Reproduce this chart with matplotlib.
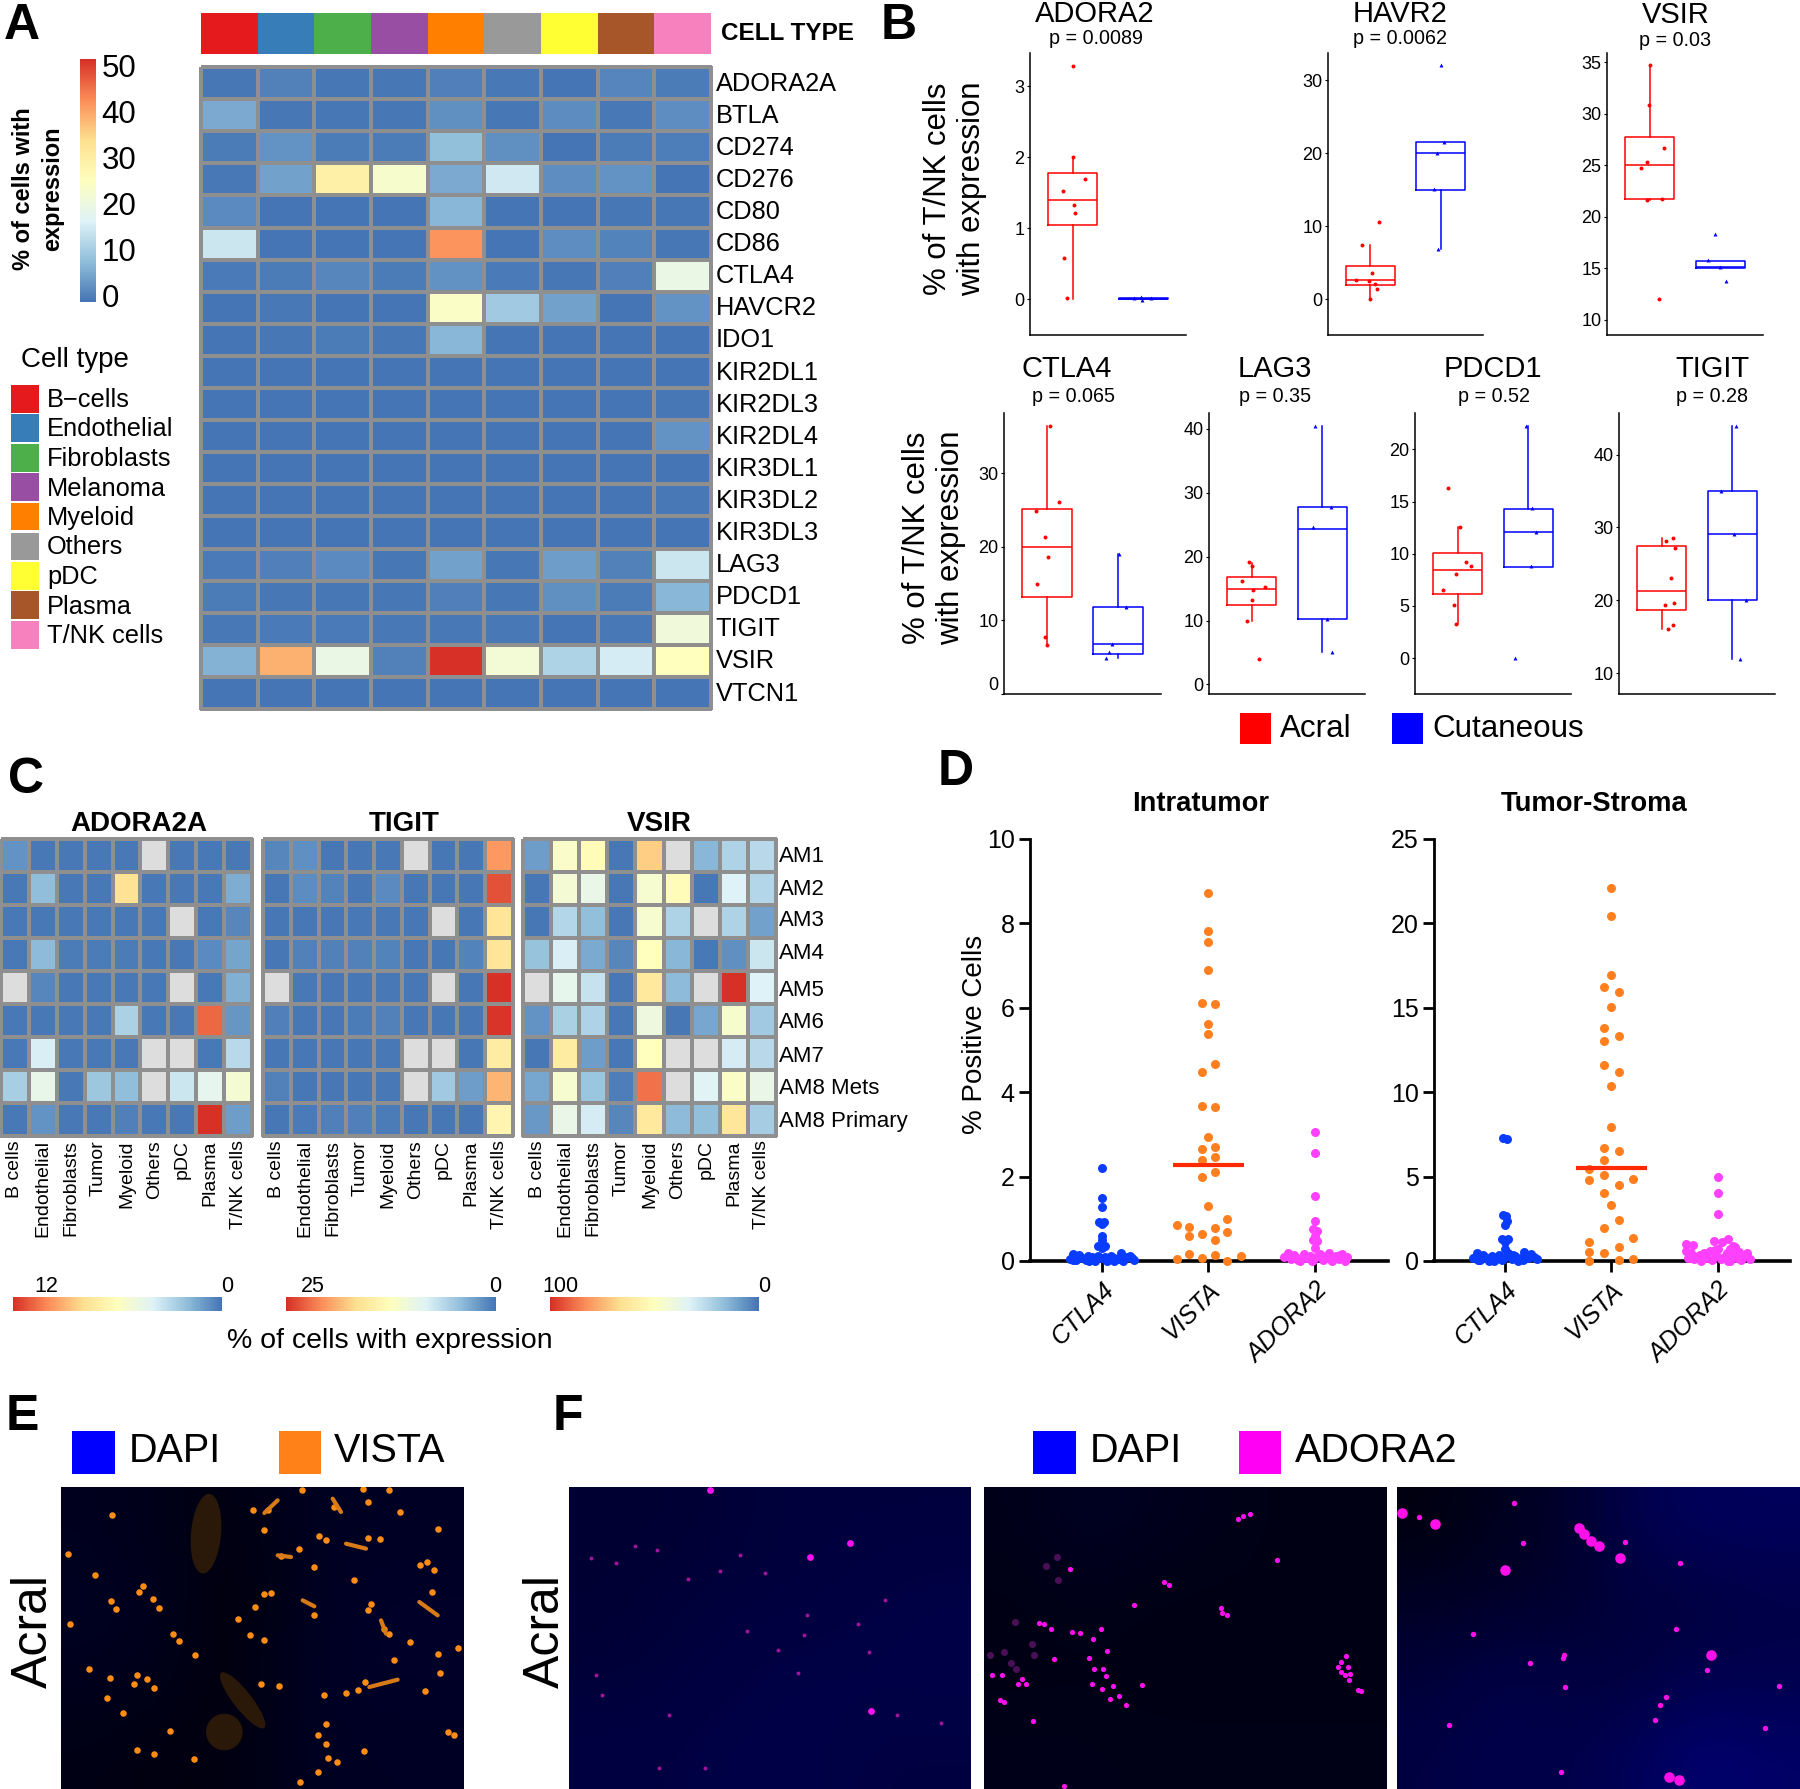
import numpy as np
import matplotlib
matplotlib.use('Agg')
import matplotlib.pyplot as plt
from matplotlib.colors import LinearSegmentedColormap
from matplotlib.patches import Rectangle, Ellipse

plt.rcParams['font.family'] = ['Liberation Sans', 'DejaVu Sans']
W, H = 1800, 1789
fig = plt.figure(figsize=(18, 17.89), dpi=100, facecolor='white')
nan = np.nan

# ---------- Panel A data ----------
cell_types_a = ['B\u2212cells', 'Endothelial', 'Fibroblasts', 'Melanoma', 'Myeloid', 'Others', 'pDC', 'Plasma', 'T/NK cells']
cell_colors = ['#E41A1C', '#377EB8', '#4DAF4A', '#984EA3', '#FF7F00', '#999999', '#FFFF33', '#A65628', '#F781BF']
genes_a = ['ADORA2A', 'BTLA', 'CD274', 'CD276', 'CD80', 'CD86', 'CTLA4', 'HAVCR2', 'IDO1', 'KIR2DL1',
           'KIR2DL3', 'KIR2DL4', 'KIR3DL1', 'KIR3DL2', 'KIR3DL3', 'LAG3', 'PDCD1', 'TIGIT', 'VSIR', 'VTCN1']
expr_a = [
    [0.2, 1.5, 0.3, 0.3, 1.3, 0.4, 0.1, 1.8, 0.8],
    [6.0, 0.3, 0.2, 0.2, 3.0, 0.2, 2.7, 0.5, 2.8],
    [0.8, 3.5, 0.8, 0.8, 8.5, 3.0, 0.1, 0.8, 1.0],
    [0.5, 5.0, 29, 23, 6.0, 15, 2.8, 3.5, 0.1],
    [2.5, 0.1, 0.1, 0.1, 7.5, 0.1, 0.1, 0.2, 0.2],
    [14.5, 0.1, 0.1, 0.1, 41, 0.1, 2.8, 1.7, 0.2],
    [0.6, 0.8, 2.0, 0.8, 3.2, 0.6, 0.2, 1.2, 19.5],
    [0.1, 0.5, 0.1, 0.1, 24, 10, 5.0, 0.1, 3.5],
    [0.1, 0.2, 0.8, 0.2, 7.5, 0.1, 0.1, 0.1, 0.1],
    [0.1, 0.1, 0.1, 0.1, 0.1, 0.1, 0.1, 0.1, 0.1],
    [0.1, 0.1, 0.1, 0.1, 0.1, 0.1, 0.1, 0.1, 0.3],
    [0.1, 0.1, 0.1, 0.1, 0.1, 0.1, 0.1, 0.1, 3.5],
    [0.1, 0.1, 0.1, 0.1, 0.1, 0.1, 0.1, 0.1, 0.1],
    [0.1, 0.1, 0.1, 0.1, 0.1, 0.1, 0.1, 0.1, 0.4],
    [0.1, 0.1, 0.1, 0.1, 0.1, 0.1, 0.1, 0.1, 0.1],
    [0.6, 1.2, 2.5, 0.3, 5.0, 0.3, 4.5, 1.5, 14.5],
    [0.8, 0.2, 0.2, 0.2, 1.3, 0.3, 3.0, 0.8, 7.5],
    [0.5, 0.7, 0.7, 0.4, 0.5, 0.5, 0.1, 0.5, 21],
    [7.0, 38, 19.5, 1.5, 50, 21.5, 11.5, 15.5, 25],
    [0.1, 0.1, 0.1, 0.1, 0.1, 0.1, 0.1, 0.1, 0.1],
]
ticks_a = [0, 10, 20, 30, 40, 50]

# ---------- Panel B data ----------
box_genes = ['ADORA2', 'HAVR2', 'VSIR', 'CTLA4', 'LAG3', 'PDCD1', 'TIGIT']
box_p = ['p = 0.0089', 'p = 0.0062', 'p = 0.03', 'p = 0.065', 'p = 0.35', 'p = 0.52', 'p = 0.28']
# stats: whislo, q1, median, q3, whishi
stats_acral = [[0.0, 1.05, 1.40, 1.78, 2.0], [0.0, 1.95, 2.55, 4.5, 7.45], [21.6, 21.7, 25.0, 27.7, 34.7],
               [6.6, 13.2, 20.0, 25.2, 36.4], [9.9, 12.4, 15.0, 16.8, 19.0], [3.3, 6.1, 8.4, 10.07, 12.6],
               [16.1, 18.7, 21.3, 27.4, 28.6]]
stats_cut = [[0.0, 0.0, 0.0, 0.01, 0.01], [6.85, 15.0, 20.0, 21.5, 21.5], [15.0, 15.0, 15.15, 15.75, 15.75],
             [4.9, 5.5, 6.8, 11.8, 19.0], [5.0, 10.3, 24.4, 27.8, 40.5], [8.7, 8.7, 12.1, 14.3, 22.3],
             [12.0, 20.0, 29.1, 35.0, 43.9]]
pts_acral = [[3.28, 2.0, 1.69, 1.52, 1.32, 1.22, 0.58, 0.02],
             [10.6, 7.45, 3.6, 2.66, 2.4, 2.1, 1.4, 0.0],
             [34.7, 30.85, 26.7, 25.3, 24.7, 21.75, 21.6, 12.0],
             [36.4, 26.1, 24.9, 21.4, 18.6, 14.9, 7.8, 6.6],
             [19.1, 18.6, 16.2, 15.2, 14.8, 13.2, 9.9, 4.0],
             [16.3, 12.6, 9.2, 8.8, 8.07, 6.5, 5.1, 3.3],
             [28.6, 28.2, 27.2, 23.0, 19.6, 19.3, 16.6, 16.1]]
jit_acral = [[0, .01, .17, -.13, .02, .03, -.12, -.08],
             [.12, -.12, .02, -.2, -.02, .06, .10, 0],
             [.01, -.01, .2, -.03, -.12, .17, -.03, .13],
             [.05, .17, -.15, -.03, .02, -.13, -.02, 0],
             [-.03, 0, -.13, .19, .02, 0, -.07, .1],
             [-.13, .04, .12, .19, -.02, -.2, -.05, -.02],
             [.16, .06, .19, .13, .18, .05, .16, .09]]
pts_cut = [[0.01, 0.03, 0.015, -0.01],
           [32.0, 21.5, 20.0, 15.1, 6.85],
           [18.3, 15.8, 15.15, 13.8],
           [19.0, 11.8, 6.8, 5.7, 4.9],
           [40.5, 27.8, 24.6, 10.3, 5.0],
           [22.3, 14.4, 12.1, 8.8, 0.0],
           [43.9, 35.0, 29.1, 20.0, 12.0]]
jit_cut = [[-.14, -.04, .11, -.02],
           [0, .04, -.05, -.10, -.04],
           [-.07, -.17, -.01, .08],
           [.02, .12, -.08, -.12, -.17],
           [-.1, .12, -.13, .07, .13],
           [-.03, .05, .11, .04, -.19],
           [.05, -.16, .02, .19, .1]]
box_ylim = [(-0.5, 3.47), (-4.86, 33.7), (8.58, 35.9), (0, 38.2), (-1.5, 42.5), (-3.45, 23.5), (7.14, 45.7)]
box_ticks = [[0, 1, 2, 3], [0, 10, 20, 30], [10, 15, 20, 25, 30, 35], [0, 10, 20, 30], [0, 10, 20, 30, 40],
             [0, 5, 10, 15, 20], [10, 20, 30, 40]]
group_names = ['Acral', 'Cutaneous']

# ---------- Panel C data ----------
cells_c = ['B cells', 'Endothelial', 'Fibroblasts', 'Tumor', 'Myeloid', 'Others', 'pDC', 'Plasma', 'T/NK cells']
programs_c = ['AM1', 'AM2', 'AM3', 'AM4', 'AM5', 'AM6', 'AM7', 'AM8 Mets', 'AM8 Primary']
adora_c = [
    [0.8, 0.1, 0.1, 0.1, 0.1, nan, 0.1, 0.1, 0.1],
    [0.1, 2.0, 0.1, 0.1, 7.8, 0.1, 0.1, 0.1, 1.5],
    [0.1, 0.1, 0.1, 0.1, 0.1, 0.1, nan, 0.1, 0.5],
    [0.1, 1.9, 0.2, 0.2, 0.2, 0.1, 0.1, 0.6, 1.3],
    [nan, 0.5, 0.1, 0.1, 0.1, 0.1, nan, 0.1, 1.6],
    [0.1, 0.1, 0.1, 0.1, 2.7, 0.1, 0.1, 10.8, 0.9],
    [0.1, 3.8, 0.1, 0.1, 0.1, nan, nan, 0.1, 3.0],
    [2.6, 4.5, 0.1, 2.3, 2.0, nan, 3.5, 4.4, 5.3],
    [0.1, 0.8, 0.1, 0.1, 0.3, 0.1, 0.1, 12.0, 1.1],
]
tigit_c = [
    [1.0, 1.5, 0.1, 0.1, 0.2, nan, 0.1, 0.1, 20.3],
    [0.1, 1.3, 0.8, 0.1, 1.2, 0.1, 0.1, 0.1, 23.5],
    [0.1, 0.1, 0.1, 0.2, 0.2, 0.1, nan, 0.1, 16.0],
    [0.1, 0.7, 0.7, 0.7, 0.8, 0.1, 0.1, 0.8, 16.0],
    [nan, 0.2, 0.1, 0.1, 0.2, 0.1, nan, 0.1, 25.0],
    [0.6, 0.1, 0.1, 0.4, 0.7, 0.1, 0.1, 0.1, 24.8],
    [0.1, 0.1, 0.1, 0.1, 0.2, nan, nan, 0.1, 15.0],
    [0.7, 0.1, 0.1, 0.1, 0.2, nan, 5.0, 2.3, 18.8],
    [0.1, 0.3, 0.6, 0.6, 0.4, 0.1, 0.1, 0.1, 13.8],
]
vsir_c = [
    [9, 47, 52, 0.5, 70, nan, 15, 23, 25],
    [0.5, 44, 38, 0.5, 45, 52, 0.5, 33, 24],
    [0.5, 24, 17, 0.5, 45, 23, nan, 23, 10],
    [18, 32, 12, 4, 50, 15, 1, 6, 29],
    [nan, 37, 28, 0.5, 62, 16, nan, 100, 33],
    [7, 22, 23, 0.5, 41, 0.5, 11, 46, 20],
    [0.5, 60, 9, 0.5, 50, nan, nan, 31, 25],
    [11, 45, 19, 2, 88, nan, 34, 48, 38],
    [8, 38, 31, 4, 62, 16, 17, 63, 21],
]
titles_c = ['ADORA2A', 'TIGIT', 'VSIR']
max_c = [12, 25, 100]

# ---------- Panel D data ----------
markers_d = ['CTLA4', 'VISTA', 'ADORA2']
intra_ctla4_y = [2.2, 1.5, 1.27, .92, .92, .88, .6, .5, .35, .35, .3,
                 .05, .17, .02, .14, .06, .02, .0, .09, .03, .12, .07, .1, .02, .13, .0, .05, .2, .04, .09, .13, .03,
                 .02, .09, .11, .0, .01, .08, .01, .06]
intra_ctla4_x = [0, 0, 0, -.02, .02, 0, 0, 0, -.03, .03, 0,
                 -.3, -.27, -.24, -.21, -.18, -.15, -.12, -.09, -.06, -.03, 0, .03, .06, .09, .12, .15, .18, .21, .24, .27, .3,
                 -.27, -.2, -.13, -.06, .05, .12, .2, .28]
intra_vista_y = [8.73, 7.83, 7.55, 6.9, 6.12, 6.08, 5.62, 5.38, 4.67, 4.48, 3.68, 3.65, 2.94, 2.65, 2.69, 2.4, 2.46,
                 2.12, 1.98, 1.31, 1.0, .86, .81, .78, .59, .65, .68, .49, .17, .15, .13, .05, .06, -.01]
intra_vista_x = [0, 0, 0, 0, -.057, .057, 0, 0, .057, -.057, -.057, .057, 0, -.057, .057, -.057, .057,
                 .057, -.057, 0, .176, -.295, -.18, .057, -.18, -.057, .176, .057, -.18, .057, .3, -.295, -.057, .176]
intra_adora_y = [3.05, 2.55, 1.53, .95, .75, .72, .6, .5, .47, .3,
                 .1, .18, .04, .15, .08, .0, .17, .06, .12, .02, .1, .16, .03, .08, .19, .01, .12, .05, .16, .0, .1,
                 .13, .02, .07, .0, .11, .04, .14]
intra_adora_x = [0, 0, 0, 0, -.02, .02, 0, -.02, .02, 0,
                 -.29, -.26, -.23, -.2, -.17, -.14, -.11, -.08, -.05, -.02, .01, .04, .07, .1, .13, .16, .19, .22, .25, .28, .3,
                 -.24, -.16, -.09, -.03, .06, .14, .23]
strom_ctla4_y = [7.3, 7.25, 2.75, 2.65, 2.35, 2.15, 1.3, 1.3, 1.15, .7,
                 .15, .5, .05, .35, .2, .0, .3, .1, .35, .05, .25, .45, .1, .3, .0, .2, .55, .15, .4, .25, .1,
                 .05, .25, .0, .15, .35, .05]
strom_ctla4_x = [-.02, .02, -.02, .01, .02, 0, -.03, .03, 0, 0,
                 -.3, -.27, -.24, -.21, -.18, -.15, -.12, -.09, -.06, -.03, 0, .03, .06, .09, .12, .15, .18, .21, .24, .27, .3,
                 -.26, -.19, -.11, -.04, .07, .17]
strom_vista_y = [22.1, 20.45, 16.97, 16.25, 15.93, 15.03, 13.78, 13.3, 13.02, 11.59, 11.2, 10.34, 7.94, 6.72, 6.53, 6.0,
                 5.47, 5.08, 4.78, 4.87, 4.48, 4.02, 3.32, 2.45, 1.96, 1.34, 1.15, .81, .53, .46, .05, .09, -.02]
strom_vista_x = [0, 0, 0, -.073, .067, 0, -.073, .067, -.073, -.073, .067, 0, 0, -.073, .067, -.073,
                 -.207, -.073, -.207, .2, .067, -.073, 0, .067, -.073, .2, -.207, .067, -.207, -.073, .067, .2, -.207]
strom_adora_y = [5.0, 4.0, 2.8, 1.3, 1.2, 1.1, 1.0, .95, .9, .85, .7, .65,
                 .6, .2, .5, .1, .3, .0, .45, .15, .6, .05, .35, .7, .1, .25, .5, .0, .4, .15, .55, .05, .3, .45, .1, .2, .35, .0, .25]
strom_adora_x = [0, 0, 0, .1, -.035, .04, -.3, -.235, .145, .16, .12, -.03,
                 -.3, -.28, -.25, -.22, -.19, -.16, -.13, -.1, -.07, -.05, -.02, 0, .03, .06, .09, .12, .15, .18, .2, .22, .25, .28, .3,
                 -.26, -.17, .1, .24]
median_intra = [nan, 2.27, nan]
median_strom = [nan, 5.49, nan]

# ---------- Panels E/F: hand-read spots in the micrographs (zoomed-crop coordinates) ----------
e_spots_x = [153, 20, 103, 235, 246, 295, 166, 277, 150, 354, 228, 220, 148, 84, 139, 278, 258, 402, 326, 228, 398, 280, 187, 28,
             575, 622, 610, 660, 775, 795, 715, 760, 608, 630, 583, 760, 610, 530, 566, 820, 920, 985, 722, 905, 1017, 1130, 880,
             1077, 1098, 1120, 958, 920, 930, 920, 1112, 968, 985, 1048, 1130, 1192, 1000, 1138, 1092, 855, 890, 912, 795, 1160,
             1178, 910, 828, 800, 770, 795, 718, 655, 600, 790, 770, 335]
e_spots_y = [83, 200, 265, 315, 297, 363, 367, 336, 341, 463, 563, 592, 573, 545, 632, 602, 575, 505, 732, 790, 815, 800, 677, 410,
             68, 70, 130, 207, 148, 160, 185, 240, 320, 318, 360, 385, 460, 395, 445, 60, 45, 10, 8, 5, 75, 125, 278,
             235, 225, 250, 155, 152, 350, 368, 316, 425, 440, 465, 500, 482, 518, 558, 612, 617, 610, 585, 710, 735,
             745, 793, 825, 812, 745, 770, 885, 597, 590, 625, 855, 440]
e_streaks = [[(815, 35), (840, 75)], [(855, 170), (915, 185)], [(1075, 345), (1130, 385)], [(925, 600), (1010, 578)],
             [(725, 340), (760, 358)], [(610, 78), (650, 40)], [(650, 205), (690, 210)], [(960, 400), (975, 440)]]
e_dim_ellipses = [(435, 140, 90, 240, 5), (545, 640, 55, 210, -38), (490, 735, 110, 110, 0)]
f1_bright = [(424, 10), (725, 209), (844, 168), (908, 673)]
f1_dim = [(197, 178), (140, 228), (65, 212), (265, 190), (357, 277), (455, 252), (515, 203), (590, 257), (690, 558), (870, 410),
          (950, 338), (300, 683), (270, 842), (408, 842), (985, 683), (100, 625), (82, 565), (717, 385), (903, 495), (1120, 708),
          (630, 490), (535, 433), (708, 445)]
f2_bright = [(800, 80), (780, 88), (763, 97), (882, 220), (542, 285), (557, 294), (451, 353), (712, 363), (715, 378), (730, 383),
             (1088, 508), (1125, 610), (1135, 612), (476, 594), (260, 245), (127, 590), (113, 576), (240, 897), (200, 427),
             (180, 410), (165, 407), (290, 437), (265, 435), (327, 457), (352, 425), (370, 492), (315, 512), (330, 545), (358, 545),
             (368, 568), (388, 597), (325, 592), (355, 605), (405, 628), (428, 655), (380, 637), (60, 645), (48, 640), (210, 517),
             (146, 703), (55, 565), (25, 565), (102, 590), (1075, 525), (1065, 540), (1075, 555), (1095, 540), (1100, 560), (1097, 580),
             (1085, 565)]
f2_dim = [(220, 210), (222, 280), (185, 238), (145, 470), (95, 545), (60, 495), (18, 503), (80, 527), (150, 503), (92, 405)]
f3_big = [(14, 78), (113, 110), (325, 250), (670, 214), (545, 122), (560, 140), (583, 162), (605, 178), (943, 503), (815, 870), (845, 878)]
f3_small = [(65, 90), (350, 47), (492, 855), (930, 548), (1145, 598), (505, 600), (500, 505), (497, 513), (378, 168), (228, 442),
            (1105, 722), (775, 700), (808, 630), (788, 653), (838, 427), (850, 228), (155, 715), (398, 528), (683, 165)]
# coarse DAPI brightness, hand-read over the crops
dapi_e = [[.12, .10, .06, .12, .14, .14], [.13, .12, .04, .11, .16, .16], [.12, .10, .05, .13, .16, .16], [.08, .06, .06, .12, .14, .14]]
dapi_f1 = [[.20, .20, .22, .24, .24, .24], [.20, .22, .24, .24, .26, .28], [.22, .24, .26, .28, .28, .28], [.26, .26, .28, .28, .26, .26]]
dapi_f2 = [[.10, .14, .12, .10, .08, .08], [.08, .10, .08, .08, .08, .08], [.08, .08, .08, .08, .08, .08], [.10, .10, .09, .09, .09, .09]]
dapi_f3 = [[.06, .12, .16, .30, .36, .36], [.14, .16, .18, .24, .24, .28], [.22, .28, .26, .24, .30, .30], [.26, .30, .28, .34, .44, .40]]

# ---------- helpers ----------
def ax_px(l, t, r, b):
    return fig.add_axes([l / W, 1 - b / H, (r - l) / W, (b - t) / H])

def T(x, y, s, **kw):
    kw.setdefault('va', 'center')
    kw.setdefault('ha', 'left')
    return fig.text(x / W, 1 - (y + 2) / H, s, **kw)

def square(l, t, r, b, color):
    fig.add_artist(Rectangle((l / W, 1 - b / H), (r - l) / W, (b - t) / H, transform=fig.transFigure,
                             facecolor=color, edgecolor='none'))

cmap = LinearSegmentedColormap.from_list('rb', ['#4575B4', '#91BFDB', '#E0F3F8', '#FFFFBF', '#FEE090', '#FC8D59', '#D73027'], N=256)
cmap.set_bad('#DDDDDD')
GRID = '#8F8F8F'

def heat(ax, data, vmax, lw=1.5):
    ax.pcolormesh(np.ma.masked_invalid(np.array(data, float)), cmap=cmap, vmin=0, vmax=vmax,
                  edgecolors=GRID, linewidth=lw, clip_on=False)
    ax.invert_yaxis()
    ax.axis('off')

for letter, x, y in [('A', 4, 24), ('B', 881, 24), ('C', 8, 778), ('D', 938, 770), ('E', 6, 1415), ('F', 553, 1415)]:
    T(x, y, letter, fontsize=36, fontweight='bold')

# ---------- Panel A ----------
ax = ax_px(201, 13, 711, 54)
ax.imshow([list(range(9))], cmap=matplotlib.colors.ListedColormap(cell_colors), aspect='auto', interpolation='nearest')
ax.axis('off')
T(721, 32, 'CELL TYPE', fontsize=17.5, fontweight='bold')

ax = ax_px(201, 67, 711, 709)
heat(ax, expr_a, 50)
for i, g in enumerate(genes_a):
    ax.text(9.08, i + 0.52, g, fontsize=18.3, va='center', ha='left', clip_on=False)

ax = ax_px(80, 59, 96, 302)
ax.imshow(np.linspace(50, 0, 256)[:, None], cmap=cmap, aspect='auto', extent=[0, 1, -1.3, 51.3])
ax.set_ylim(-1.3, 51.3)
ax.set_xticks([])
ax.yaxis.tick_right()
ax.set_yticks(ticks_a)
ax.set_yticklabels(ticks_a, fontsize=22.5)
ax.tick_params(length=0, pad=4)
for s in ax.spines.values():
    s.set_visible(False)
T(38, 187, '% of cells with\nexpression', fontsize=17, fontweight='bold', rotation=90, ha='center',
  multialignment='center', linespacing=1.3)

T(21, 358, 'Cell type', fontsize=20)
for i, (c, col) in enumerate(zip(cell_types_a, cell_colors)):
    top = 384 + i * 29.5
    square(11, top + 1, 39, top + 28.5, col)
    T(47, top + 14, c, fontsize=18.3)

# ---------- Panel B ----------
box_rects = [(1030, 53, 1186, 334.5), (1328, 53, 1483, 334.5), (1607, 53, 1763, 334.5),
             (1004, 413, 1160.5, 694), (1209, 413, 1365, 694), (1415, 413, 1571, 694), (1619, 413, 1775, 694)]
title_pos = [(1095, 12, 1096, 36), (1400, 12, 1400, 36), (1676, 13, 1675, 38),
             (1067, 367, 1073, 395), (1275, 367, 1275, 395), (1493, 367, 1494, 395), (1712, 367, 1712, 395)]
RED, BLUE = '#FF0000', '#0000FF'
for i, g in enumerate(box_genes):
    ax = ax_px(*box_rects[i])
    for pos, st, col, pts, jit, mk in [(1, stats_acral[i], RED, pts_acral[i], jit_acral[i], 'o'),
                                       (2, stats_cut[i], BLUE, pts_cut[i], jit_cut[i], '^')]:
        bs = dict(whislo=st[0], q1=st[1], med=st[2], q3=st[3], whishi=st[4], fliers=[])
        lp = dict(color=col, linewidth=1.1)
        ax.bxp([bs], positions=[pos], widths=0.7, showcaps=False, showfliers=False,
               boxprops=lp, whiskerprops=lp, medianprops=lp)
        ax.scatter(pos + np.array(jit), pts, s=8, color=col, marker=mk, linewidths=0, zorder=3, clip_on=False)
    ax.set_xlim(0.4, 2.6)
    ax.set_ylim(*box_ylim[i])
    ax.set_xticks([])
    ax.set_yticks(box_ticks[i])
    ax.set_yticklabels(box_ticks[i], fontsize=13)
    ax.tick_params(axis='y', length=2, width=0.8, pad=2)
    if i == 3:
        ax.get_yticklabels()[0].set_va('bottom')
    for s in ['top', 'right']:
        ax.spines[s].set_visible(False)
    for s in ['left', 'bottom']:
        ax.spines[s].set_linewidth(1.1)
    tx, ty, px, py = title_pos[i]
    T(tx, ty, g, fontsize=21, ha='center')
    T(px, py, box_p[i], fontsize=14.2, ha='center')
T(955, 187, '% of T/NK cells\nwith expression', fontsize=22.4, rotation=90, ha='center', multialignment='center')
T(934, 536, '% of T/NK cells\nwith expression', fontsize=22.4, rotation=90, ha='center', multialignment='center')
square(1240, 713, 1271, 744, RED)
T(1280, 727, group_names[0], fontsize=22.6)
square(1392, 713, 1423, 744, BLUE)
T(1432, 727, group_names[1], fontsize=22.6)

# ---------- Panel C ----------
c_rects = [(1, 839, 252, 1136), (263, 839, 513, 1136), (523, 839, 776, 1136)]
c_bars = [(13, 222), (286, 495), (550, 759)]
c_title_x = [139, 404, 659]
c_lab_hi = [46, 313, 560]
c_lab_lo = [227, 495, 764]
for k, data in enumerate([adora_c, tigit_c, vsir_c]):
    ax = ax_px(*c_rects[k])
    heat(ax, data, max_c[k])
    for j, c in enumerate(cells_c):
        ax.text(j + 0.5, 9.13, c, rotation=90, fontsize=14, ha='center', va='top', clip_on=False)
    T(c_title_x[k], 822, titles_c[k], fontsize=20, fontweight='bold', ha='center')
    l, r = c_bars[k]
    bar = ax_px(l, 1297, r, 1311)
    bar.imshow(np.linspace(max_c[k], 0, 256)[None, :], cmap=cmap, aspect='auto')
    bar.axis('off')
    T(c_lab_hi[k], 1285, str(max_c[k]), fontsize=15.5, ha='center')
    T(c_lab_lo[k], 1285, '0', fontsize=15.5, ha='center')
for i, (p, yc) in enumerate(zip(programs_c, [855, 887, 919, 952, 989, 1021, 1054, 1087, 1119])):
    T(779, yc, p, fontsize=16)
T(390, 1339, '% of cells with expression', fontsize=20.5, ha='center')

# ---------- Panel D ----------
D_COL = ['#0A3CFF', '#FF7F1E', '#FF40FF']
d_sets = [
    ((1030, 839, 1388, 1261), 10, range(0, 11, 2),
     [(intra_ctla4_x, intra_ctla4_y), (intra_vista_x, intra_vista_y), (intra_adora_x, intra_adora_y)], median_intra, 1201, 'Intratumor'),
    ((1434, 839, 1790, 1261), 25, range(0, 26, 5),
     [(strom_ctla4_x, strom_ctla4_y), (strom_vista_x, strom_vista_y), (strom_adora_x, strom_adora_y)], median_strom, 1594, 'Tumor-Stroma'),
]
for rect, ymax, yt, sets, med, tx, title in d_sets:
    ax = ax_px(*rect)
    for j, (xs, ys) in enumerate(sets):
        ax.scatter(j + 1 + np.array(xs), ys, s=42, color=D_COL[j], linewidths=0, clip_on=False, zorder=3)
        if not np.isnan(med[j]):
            ax.hlines(med[j], j + 1 - 0.33, j + 1 + 0.33, color='#FF2A00', linewidth=3, zorder=4)
    ax.set_xlim(0.33, 3.68)
    ax.set_ylim(0, ymax)
    ax.set_yticks(list(yt))
    ax.set_yticklabels(list(yt), fontsize=18)
    ax.set_xticks([1, 2, 3])
    ax.set_xticklabels(markers_d, fontsize=18, rotation=45, ha='right', rotation_mode='anchor', style='italic')
    ax.tick_params(axis='both', length=8, width=2, pad=3)
    ax.tick_params(axis='x', pad=4)
    for s in ['top', 'right']:
        ax.spines[s].set_visible(False)
    ax.spines['left'].set_linewidth(2)
    ax.spines['bottom'].set_linewidth(2.6)
    T(tx, 802, title, fontsize=19.7, fontweight='bold', ha='center')
T(975, 1032, '% Positive Cells', fontsize=20, rotation=90, ha='center')

# ---------- Panels E / F ----------
blue_cm = LinearSegmentedColormap.from_list('dapi', ['#000000', '#0000FF'])

def micro(l, r, dapi):
    ax = ax_px(l, 1487, r, 1789)
    ax.imshow(dapi, cmap=blue_cm, vmin=0, vmax=1, aspect='auto', interpolation='bicubic', extent=[0, 1209, 906, 0])
    ax.set_xlim(0, 1209)
    ax.set_ylim(906, 0)
    ax.axis('off')
    return ax

ax = micro(61, 464, dapi_e)
for ex, ey, ew, eh, ang in e_dim_ellipses:
    ax.add_patch(Ellipse((ex, ey), ew, eh, angle=ang, facecolor='#2A1808', edgecolor='none'))
ax.scatter(e_spots_x, e_spots_y, s=22, color='#FF8C14', linewidths=0)
for st in e_streaks:
    ax.plot(*zip(*st), color='#D87A18', linewidth=3, solid_capstyle='round')

ax = micro(569, 971, dapi_f1)
ax.scatter(*zip(*f1_dim), s=8, color='#A0149A', linewidths=0)
ax.scatter(*zip(*f1_bright), s=24, color='#FF10F0', linewidths=0)

ax = micro(984, 1386, dapi_f2)
ax.scatter(*zip(*f2_dim), s=26, color='#4A0F55', linewidths=0)
ax.scatter(*zip(*f2_bright), s=14, color='#FF10F0', linewidths=0)

ax = micro(1397, 1800, dapi_f3)
ax.scatter(*zip(*f3_big), s=58, color='#FF10E8', linewidths=0)
ax.scatter(*zip(*f3_small), s=15, color='#FF10E8', linewidths=0)

square(72, 1431, 115, 1474, '#0000FF')
T(129, 1449, 'DAPI', fontsize=28.5)
square(279, 1431, 321, 1474, '#FF8118')
T(334, 1449, 'VISTA', fontsize=28.5)
square(1033, 1431, 1076, 1474, '#0000FF')
T(1090, 1449, 'DAPI', fontsize=28.5)
square(1239, 1431, 1281, 1474, '#FF00F5')
T(1295, 1449, 'ADORA2', fontsize=28.5)
T(34, 1629, 'Acral', fontsize=36, rotation=90, ha='center')
T(546, 1629, 'Acral', fontsize=36, rotation=90, ha='center')

fig.savefig('out.png', dpi=100)
